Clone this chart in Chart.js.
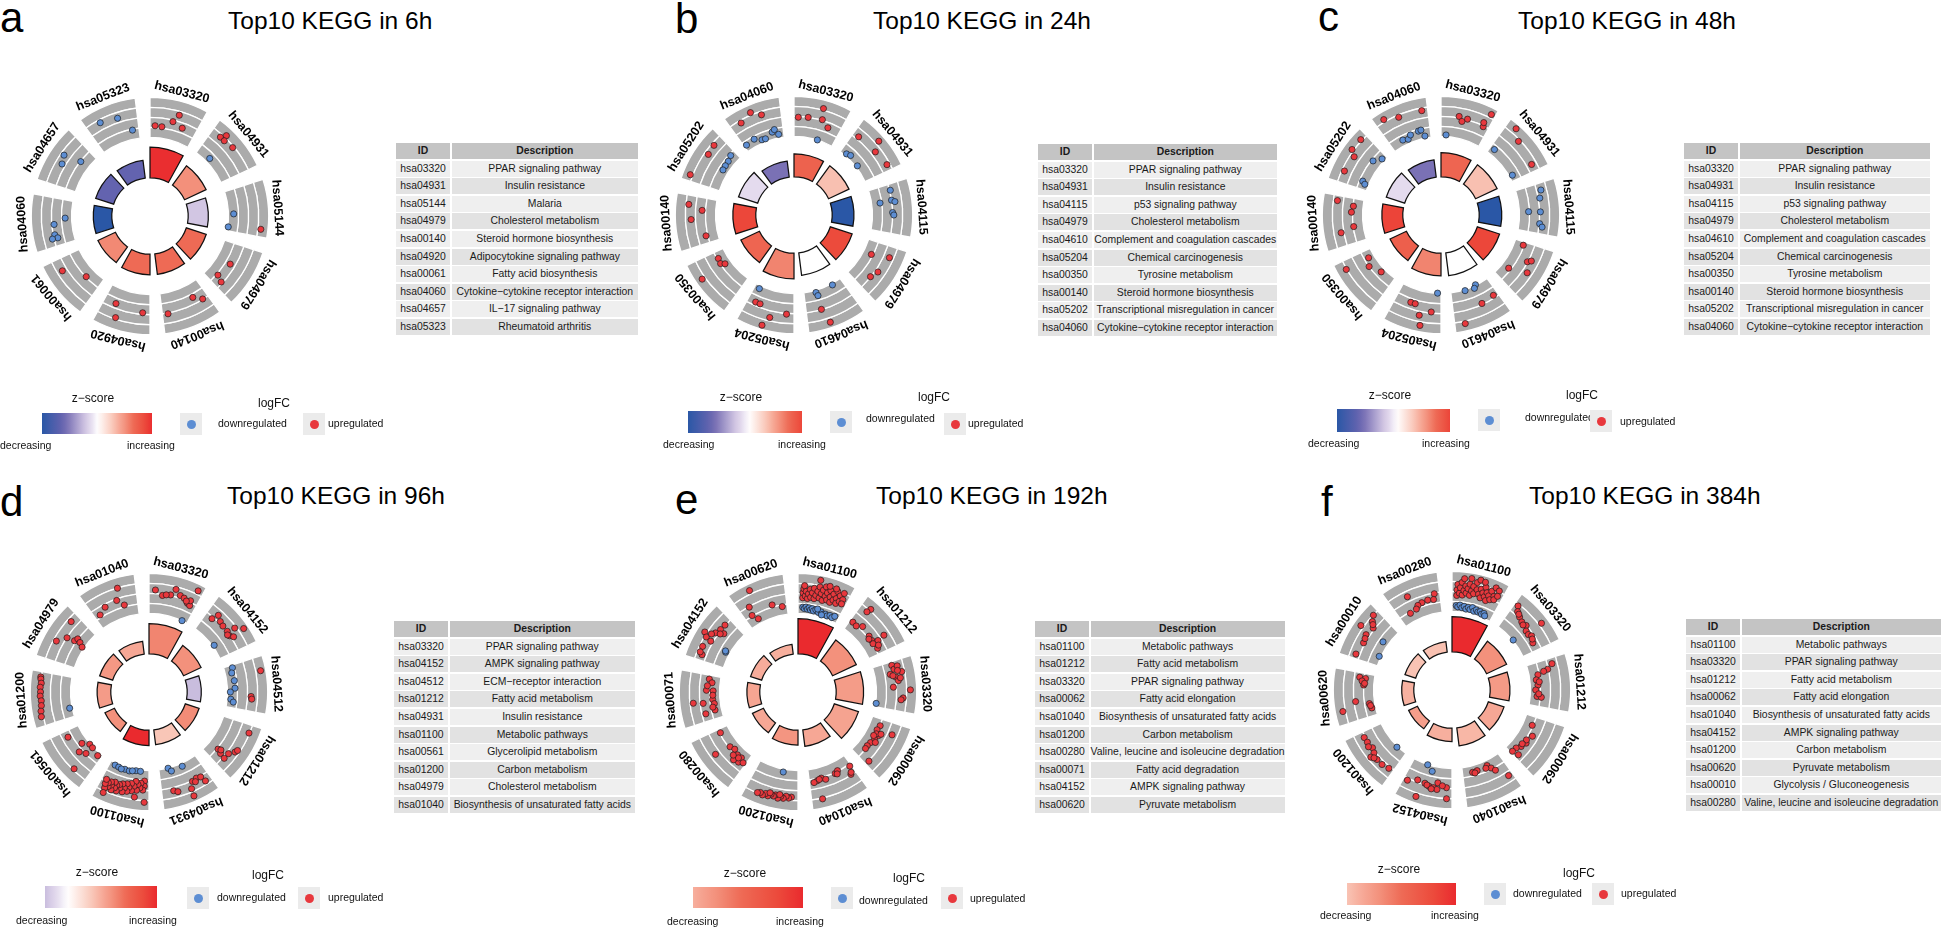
<!DOCTYPE html>
<html>
<head>
<meta charset="utf-8">
<title>Top10 KEGG GOCircle panels</title>
<script src="https://cdn.jsdelivr.net/npm/chart.js@4.4.1/dist/chart.umd.min.js"></script>
<style>
  html,body{margin:0;padding:0;background:#fff;}
  body{width:1944px;height:927px;position:relative;overflow:hidden;font-family:"Liberation Sans",Arial,Helvetica,sans-serif;color:#111;}
  .t{position:absolute;white-space:nowrap;}
  .circ{position:absolute;width:400px;height:400px;}
  .circ canvas{position:absolute;left:0;top:0;}
  .tbl{position:absolute;display:grid;grid-template-columns:54px 1fr;column-gap:1.6px;row-gap:1.6px;grid-auto-rows:16px;font-size:10.4px;}
  .tbl div{background:#e2e2e2;text-align:center;line-height:16px;white-space:nowrap;color:#1a1a1a;}
  .tbl div.h{background:#c4c4c4;font-weight:bold;}
  .tbl div.o{background:#efefef;}
  .key{position:absolute;width:22px;height:22px;background:#ebebeb;}
  .key i{position:absolute;left:6.5px;top:6.5px;width:9px;height:9px;border-radius:50%;}
  .zbar{position:absolute;}
</style>
</head>
<body>
<script>
// ================= DATA =================
// Panel a (6h)
const TERMS_A = ['hsa03320','hsa04931','hsa05144','hsa04979','hsa00140','hsa04920','hsa00061','hsa04060','hsa04657','hsa05323'];
const DESC_A = ['PPAR signaling pathway','Insulin resistance','Malaria','Cholesterol metabolism','Steroid hormone biosynthesis','Adipocytokine signaling pathway','Fatty acid biosynthesis','Cytokine\u2212cytokine receptor interaction','IL\u221217 signaling pathway','Rheumatoid arthritis'];
const Z_A = [2.6, 1.34, -0.58, 1.73, 1.73, 1.73, 1.41, -2.65, -1.73, -1.73];
const BAR_A = [0.76, 0.59, 0.50, 0.52, 0.51, 0.51, 0.48, 0.46, 0.47, 0.44];
// points: [position on circle (term index + offset), scaled logFC within the band]
const UP_A = [[0.09,0.35],[0.21,0.34],[0.38,0.52],[0.45,0.72],[0.56,0.43],
  [1.16,0.74],[1.21,0.87],[1.24,0.74],[1.40,0.78],
  [2.69,0.89],
  [3.36,0.43],[3.64,0.34],[3.69,0.52],
  [4.23,0.39],[4.10,0.55],[4.71,0.58],
  [5.59,0.44],[5.52,0.78],[5.12,0.52],
  [6.61,0.68],[6.29,0.29]];
const DOWN_A = [[1.28,0.16],
  [2.46,0.18],[2.72,0.06],
  [7.46,0.21],[7.36,0.50],[7.19,0.52],[7.13,0.46],[7.13,0.60],
  [8.48,0.73],[8.35,0.65],[8.56,0.29],
  [9.22,0.74],[9.49,0.67],[9.68,0.28]];

// Panel b (24h)
const TERMS_B = ['hsa03320','hsa04931','hsa04115','hsa04979','hsa04610','hsa05204','hsa00350','hsa00140','hsa05202','hsa04060'];
const DESC_B = ['PPAR signaling pathway','Insulin resistance','p53 signaling pathway','Cholesterol metabolism','Complement and coagulation cascades','Chemical carcinogenesis','Tyrosine metabolism','Steroid hormone biosynthesis','Transcriptional misregulation in cancer','Cytokine\u2212cytokine receptor interaction'];
const Z_B = [1.72, 0.74, -2.45, 2.08, 0.0, 1.35, 1.67, 2.13, -0.29, -1.35];
const BAR_B = [0.57, 0.56, 0.54, 0.57, 0.56, 0.64, 0.51, 0.57, 0.50, 0.40];
const UP_B = [[0.07,0.54],[0.23,0.56],[0.43,0.86],[0.46,0.58],[0.59,0.43],
  [1.10,0.63],[1.36,0.91],[1.45,0.67],[1.71,0.74],
  [3.25,0.26],[3.17,0.71],[3.58,0.55],[3.45,0.63],
  [4.55,0.55],[4.48,0.93],
  [5.66,0.47],[5.58,0.47],[5.37,0.73],[5.45,0.97],[5.12,0.58],
  [6.67,0.27],[6.57,0.29],[6.52,0.20],[6.53,0.90],
  [7.66,0.74],[7.58,0.39],[7.43,0.67],[7.13,0.35],
  [8.64,0.75],[8.48,0.72],[8.09,0.88],
  [9.36,0.88],[9.17,0.75],[9.50,0.73]];
const DOWN_B = [[0.48,0.05],
  [1.13,0.10],[1.21,0.14],[1.45,0.09],
  [2.10,0.58],[2.28,0.26],[2.26,0.56],[2.29,0.64],[2.46,0.56],[2.50,0.59],
  [4.20,0.08],[4.56,0.10],[4.54,0.19],
  [5.70,0.12],
  [8.70,0.26],[8.59,0.21],[8.49,0.20],[8.40,0.19],
  [9.05,0.20],[9.23,0.23],[9.36,0.13],[9.43,0.12],[9.59,0.23],[9.64,0.28],[9.70,0.14]];

// Panel c (48h)
const TERMS_C = ['hsa03320','hsa04931','hsa04115','hsa04979','hsa04610','hsa05204','hsa00350','hsa00140','hsa05202','hsa04060'];
const DESC_C = ['PPAR signaling pathway','Insulin resistance','p53 signaling pathway','Cholesterol metabolism','Complement and coagulation cascades','Chemical carcinogenesis','Tyrosine metabolism','Steroid hormone biosynthesis','Transcriptional misregulation in cancer','Cytokine\u2212cytokine receptor interaction'];
const Z_C = [1.67, 0.74, -2.45, 2.13, 0.0, 1.35, 1.76, 2.16, -0.29, -1.35];
const BAR_C = [0.60, 0.59, 0.56, 0.58, 0.57, 0.56, 0.45, 0.52, 0.48, 0.43];
const UP_C = [[0.29,0.60],[0.35,0.49],[0.43,0.58],[0.71,0.54],[0.69,0.64],[0.74,0.91],
  [1.14,0.96],[1.29,0.77],[1.69,0.69],
  [3.06,0.28],[3.29,0.55],[3.25,0.63],[3.56,0.24],[3.44,0.69],
  [4.08,0.49],[4.31,0.53],[4.65,0.88],
  [5.53,0.40],[5.45,0.40],[5.16,0.53],[5.34,0.66],[5.30,0.91],
  [6.65,0.19],[6.51,0.30],[6.29,0.15],[6.67,0.83],
  [7.72,0.71],[7.66,0.29],[7.55,0.33],[7.29,0.29],[7.22,0.63],
  [8.70,0.85],[8.51,0.86],[8.44,0.71],[8.18,0.75],
  [9.14,0.88],[9.35,0.76],[9.71,0.75]];
const DOWN_C = [[0.10,0.09],
  [1.09,0.20],[1.69,0.13],
  [2.11,0.67],[2.23,0.60],[2.44,0.28],[2.45,0.58],[2.64,0.57],[2.69,0.64],
  [4.51,0.07],[4.27,0.03],[4.32,0.10],
  [5.07,0.04],
  [8.57,0.26],[8.71,0.12],[8.15,0.22],[8.11,0.14],
  [9.25,0.19],[9.35,0.15],[9.42,0.23],[9.58,0.26],[9.63,0.27],[9.68,0.10]];

// Panel d (96h)
const TERMS_D = ['hsa03320','hsa04152','hsa04512','hsa01212','hsa04931','hsa01100','hsa00561','hsa01200','hsa04979','hsa01040'];
const DESC_D = ['PPAR signaling pathway','AMPK signaling pathway','ECM\u2212receptor interaction','Fatty acid metabolism','Insulin resistance','Metabolic pathways','Glycerolipid metabolism','Carbon metabolism','Cholesterol metabolism','Biosynthesis of unsaturated fatty acids'];
const Z_D = [4.1, 3.75, -1.9, 3.9, 2.1, 7.5, 3.75, 3.4, 3.5, 3.0];
const BAR_D = [0.75, 0.48, 0.35, 0.36, 0.37, 0.38, 0.26, 0.34, 0.34, 0.32];
const UP_D = [[0.10,0.65],[0.22,0.53],[0.35,0.58],[0.41,0.75],[0.50,0.63],[0.57,0.60],[0.65,0.51],[0.70,0.48],[0.68,0.60],[0.72,0.91],[0.62,0.55],[0.28,0.56],
  [1.13,0.51],[1.17,0.68],[1.26,0.60],[1.34,0.57],[1.45,0.57],[1.53,0.55],[1.58,0.62],[1.48,0.77],[1.56,0.95],[1.50,0.52],
  [2.20,0.94],[2.57,0.65],[2.61,0.67],
  [3.12,0.80],[3.60,0.33],[3.63,0.45],[3.65,0.60],[3.55,0.61],[3.47,0.72],[3.43,0.75],[3.58,0.40],
  [4.61,0.64],[4.55,0.69],[4.34,0.74],[4.28,0.58],[4.20,0.55],[4.13,0.58],[4.10,0.73],[4.35,0.93],[4.24,0.62],
  [5.08,0.32],[5.08,0.45],[5.10,0.55],[5.14,0.38],[5.15,0.50],[5.19,0.42],[5.20,0.57],[5.23,0.35],[5.25,0.48],[5.28,0.60],
  [5.30,0.42],[5.33,0.53],[5.35,0.64],[5.37,0.45],[5.40,0.57],[5.42,0.68],[5.44,0.48],[5.47,0.60],[5.49,0.52],[5.51,0.70],
  [5.53,0.56],[5.55,0.64],[5.57,0.50],[5.59,0.72],[5.61,0.60],[5.63,0.53],[5.65,0.67],[5.67,0.58],[5.69,0.74],[5.71,0.63],
  [5.72,0.52],[5.68,0.86],[5.22,0.75],[5.07,0.86],
  [6.69,0.41],[6.46,0.20],[6.35,0.06],[6.37,0.39],[6.27,0.29],[6.08,0.13],[6.26,0.07],[6.23,0.78],
  [7.72,0.83],[7.69,0.82],[7.63,0.80],[7.57,0.82],[7.50,0.81],[7.44,0.82],[7.37,0.80],[7.30,0.81],[7.22,0.84],[7.14,0.86],
  [8.67,0.72],[8.30,0.74],[8.43,0.55],[8.46,0.35],[8.52,0.31],[8.49,0.21],[8.44,0.10],
  [9.53,0.81],[9.10,0.37],[9.24,0.48],[9.46,0.52],[9.56,0.35]];
const DOWN_D = [[0.69,0.05],
  [1.51,0.09],
  [2.05,0.26],[2.14,0.21],[2.29,0.24],[2.43,0.24],[2.50,0.12],[2.64,0.14],[2.69,0.21],
  [4.61,0.05],[4.56,0.14],[4.33,0.12],
  [5.69,0.10],[5.61,0.11],[5.48,0.11],[5.39,0.12],[5.26,0.08],[5.17,0.08],[5.33,0.10],[5.55,0.13],
  [7.18,0.11]];

// Panel e (192h)
const TERMS_E = ['hsa01100','hsa01212','hsa03320','hsa00062','hsa01040','hsa01200','hsa00280','hsa00071','hsa04152','hsa00620'];
const DESC_E = ['Metabolic pathways','Fatty acid metabolism','PPAR signaling pathway','Fatty acid elongation','Biosynthesis of unsaturated fatty acids','Carbon metabolism','Valine, leucine and isoleucine degradation','Fatty acid degradation','AMPK signaling pathway','Pyruvate metabolism'];
const Z_E = [8.5, 4.25, 3.83, 3.57, 3.4, 4.08, 3.4, 3.49, 3.23, 3.15];
const BAR_E = [0.87, 0.65, 0.68, 0.63, 0.41, 0.37, 0.30, 0.32, 0.29, 0.24];
const UP_E = [[0.08,0.45],[0.08,0.58],[0.09,0.68],[0.12,0.50],[0.13,0.62],[0.16,0.44],[0.17,0.56],[0.19,0.68],[0.21,0.48],[0.23,0.60],
  [0.25,0.72],[0.27,0.46],[0.29,0.55],[0.31,0.66],[0.33,0.78],[0.35,0.50],[0.37,0.62],[0.39,0.72],[0.41,0.46],[0.42,0.82],
  [0.44,0.58],[0.46,0.68],[0.48,0.50],[0.50,0.76],[0.52,0.60],[0.54,0.47],[0.56,0.70],[0.58,0.55],[0.60,0.80],[0.62,0.62],
  [0.64,0.50],[0.66,0.72],[0.68,0.58],[0.70,0.82],[0.72,0.66],[0.73,0.55],[0.32,0.95],[0.10,0.76],[0.47,0.86],[0.57,0.85],
  [1.15,0.85],[1.13,0.74],[1.06,0.31],[1.15,0.29],[1.24,0.39],[1.44,0.35],[1.53,0.34],[1.61,0.38],[1.59,0.47],[1.57,0.67],
  [1.70,0.36],[1.59,0.32],[1.48,0.30],[1.66,0.42],
  [2.06,0.53],[2.13,0.56],[2.09,0.66],[2.19,0.74],[2.20,0.44],[2.26,0.57],[2.32,0.62],[2.42,0.48],[2.47,0.91],[2.59,0.73],
  [2.62,0.68],[2.16,0.64],[2.23,0.50],[2.28,0.68],
  [3.12,0.31],[3.21,0.28],[3.29,0.38],[3.38,0.34],[3.47,0.30],[3.55,0.28],[3.61,0.29],[3.18,0.68],[3.73,0.57],[3.28,0.31],
  [3.25,0.42],[3.42,0.40],[3.33,0.27],
  [4.66,0.36],[4.58,0.32],[4.51,0.38],[4.32,0.33],[4.26,0.29],[4.03,0.35],[4.09,0.54],[4.64,0.84],[4.72,0.39],[4.62,0.34],
  [4.29,0.36],[4.07,0.50],
  [5.10,0.73],[5.14,0.76],[5.18,0.72],[5.22,0.78],[5.26,0.74],[5.30,0.80],[5.34,0.73],[5.37,0.77],[5.41,0.74],[5.45,0.80],
  [5.49,0.76],[5.53,0.82],[5.57,0.78],[5.61,0.81],[5.28,0.70],[5.43,0.71],
  [6.73,0.28],[6.42,0.27],[6.33,0.22],[6.22,0.27],[6.13,0.26],[6.12,0.39],[6.21,0.43],[6.47,0.68],[6.05,0.33],[6.17,0.31],
  [6.27,0.35],
  [7.73,0.33],[7.67,0.25],[7.53,0.38],[7.52,0.21],[7.36,0.23],[7.28,0.20],[7.16,0.21],[7.33,0.73],[7.31,0.48],[7.13,0.46],
  [7.61,0.36],[7.44,0.22],[7.22,0.25],
  [8.68,0.57],[8.58,0.58],[8.56,0.45],[8.49,0.63],[8.41,0.87],[8.36,0.77],[8.34,0.62],[8.21,0.74],[8.09,0.67],[8.52,0.52],
  [8.44,0.70],[8.12,0.74],
  [9.29,0.91],[9.17,0.54],[9.14,0.32],[9.21,0.17],[9.54,0.36],[9.71,0.26]];
const DOWN_E = [[0.09,0.21],[0.12,0.18],[0.15,0.22],[0.18,0.17],[0.21,0.21],[0.24,0.16],[0.27,0.20],[0.30,0.15],[0.34,0.19],[0.40,0.14],
  [0.45,0.17],[0.50,0.13],[0.54,0.15],[0.58,0.12],[0.63,0.16],[0.68,0.13],[0.72,0.19],[0.37,0.22],[0.47,0.10],
  [2.73,0.06],
  [5.29,0.12],
  [8.30,0.15],[8.32,0.17]];

// Panel f (384h)
const TERMS_F = ['hsa01100','hsa03320','hsa01212','hsa00062','hsa01040','hsa04152','hsa01200','hsa00620','hsa00010','hsa00280'];
const DESC_F = ['Metabolic pathways','PPAR signaling pathway','Fatty acid metabolism','Fatty acid elongation','Biosynthesis of unsaturated fatty acids','AMPK signaling pathway','Carbon metabolism','Pyruvate metabolism','Glycolysis / Gluconeogenesis','Valine, leucine and isoleucine degradation'];
const Z_F = [9.0, 4.5, 4.14, 3.6, 3.06, 3.33, 3.96, 3.24, 2.61, 2.7];
const BAR_F = [0.87, 0.55, 0.49, 0.41, 0.45, 0.33, 0.24, 0.30, 0.28, 0.26];
const UP_F = [[0.08,0.46],[0.08,0.60],[0.09,0.74],[0.12,0.52],[0.13,0.66],[0.15,0.80],[0.17,0.48],[0.19,0.60],[0.21,0.72],[0.23,0.54],
  [0.25,0.66],[0.27,0.78],[0.29,0.50],[0.31,0.62],[0.33,0.74],[0.35,0.56],[0.37,0.86],[0.39,0.68],[0.41,0.94],[0.43,0.58],
  [0.45,0.72],[0.47,0.50],[0.49,0.64],[0.51,0.80],[0.53,0.56],[0.55,0.68],[0.57,0.48],[0.59,0.62],[0.61,0.76],[0.63,0.54],
  [0.65,0.88],[0.67,0.66],[0.69,0.58],[0.71,0.84],[0.72,0.70],[0.28,0.93],[0.48,0.92],[0.18,0.90],
  [1.06,0.77],[1.11,0.65],[1.19,0.58],[1.27,0.53],[1.36,0.55],[1.43,0.46],[1.50,0.45],[1.55,0.50],[1.66,0.43],[1.48,0.89],
  [1.15,0.62],[1.32,0.50],[1.60,0.47],
  [2.09,0.68],[2.16,0.54],[2.22,0.27],[2.31,0.21],[2.41,0.24],[2.50,0.18],[2.62,0.22],[2.63,0.33],[2.18,0.43],[2.35,0.28],
  [2.57,0.26],
  [3.16,0.28],[3.33,0.41],[3.49,0.37],[3.59,0.32],[3.67,0.25],[3.73,0.41],[3.76,0.24],[3.44,0.33],[3.54,0.30],
  [4.61,0.21],[4.52,0.20],[4.31,0.17],[4.26,0.27],[4.21,0.37],[4.07,0.66],[4.57,0.24],[4.35,0.22],
  [5.73,0.61],[5.58,0.50],[5.45,0.52],[5.37,0.57],[5.30,0.58],[5.24,0.61],[5.24,0.44],[5.09,0.54],[5.08,0.82],[5.52,0.91],
  [5.41,0.55],[5.33,0.62],[5.16,0.50],
  [6.71,0.59],[6.62,0.58],[6.50,0.55],[6.42,0.60],[6.40,0.73],[6.31,0.65],[6.20,0.65],[6.08,0.61],[6.55,0.62],[6.36,0.68],
  [7.72,0.42],[7.71,0.27],[7.59,0.30],[7.31,0.52],[7.24,0.18],[7.15,0.14],[7.19,0.88],[7.66,0.35],[7.20,0.16],[7.62,0.28],
  [8.71,0.81],[8.63,0.72],[8.56,0.60],[8.48,0.89],[8.41,0.65],[8.28,0.60],[8.07,0.66],[8.60,0.66],[8.35,0.62],
  [9.29,0.68],[9.71,0.54],[9.68,0.40],[9.58,0.42],[9.47,0.40],[9.39,0.37],[9.34,0.30],[9.21,0.27]];
const DOWN_F = [[0.08,0.20],[0.11,0.17],[0.15,0.22],[0.19,0.16],[0.23,0.20],[0.27,0.14],[0.31,0.19],[0.35,0.15],[0.39,0.21],[0.43,0.13],
  [0.47,0.18],[0.51,0.14],[0.55,0.17],[0.59,0.12],[0.63,0.16],[0.66,0.11],
  [1.41,0.06],
  [5.50,0.05],[5.38,0.18],
  [6.22,0.07],
  [8.47,0.19],[8.19,0.09]];

const TITLES = ['Top10 KEGG in 6h','Top10 KEGG in 24h','Top10 KEGG in 48h','Top10 KEGG in 96h','Top10 KEGG in 192h','Top10 KEGG in 384h'];
const LETTERS = ['a','b','c','d','e','f'];

// ================= STYLE / LAYOUT =================
const GRAY = '#ABABAB', RED = '#E8383D', BLUE = '#5D8ED3';
const ZSTOPS = [[-1,'#2A57A6'],[-0.65,'#6363AF'],[-0.55,'#7A71B5'],[-0.22,'#D2C6E3'],[-0.12,'#E4DBEE'],[0,'#FFFFFF'],
  [0.28,'#F9C6B7'],[0.40,'#F6A795'],[0.50,'#F3917C'],[0.65,'#EE6A55'],[0.85,'#EC4B3C'],[1,'#EA2A2E']];
const PXU = 40.25;   // pixels per radial unit of the circle
const HALF = 200;    // half size of each circle canvas
const R0 = 1.05;     // radial value at centre
const RAD1 = 2, RAD2 = 3, LABEL_R = 4.3;
const UNIT_DEG = 36, SEG_DEG = 28.8, GAP_DEG = 7.2;

const LAYOUT = [
  {cx:150, cy:216, letterX:0, letterB:33, titleX:228, titleB:30, table:[396,143,242],
   zt:[93,398], zbar:[42,413,110,21], dec:[0,445], inc:[127,445], lt:[258,403], bb:[180,413], dl:[218,423], rb:[303,413], ul:[328,423]},
  {cx:794, cy:215, letterX:675, letterB:34, titleX:873, titleB:30, table:[1038,144,239],
   zt:[741,397], zbar:[688,411,114,22], dec:[663,444], inc:[778,444], lt:[918,397], bb:[830,411], dl:[866,418], rb:[944,413], ul:[968,423]},
  {cx:1441, cy:215, letterX:1318, letterB:32, titleX:1518, titleB:30, table:[1684,143,246],
   zt:[1390,395], zbar:[1337,409,113,23], dec:[1308,443], inc:[1422,443], lt:[1566,395], bb:[1478,409], dl:[1525,417], rb:[1590,410], ul:[1620,421]},
  {cx:149, cy:692, letterX:0, letterB:517, titleX:227, titleB:505, table:[394,621,241],
   zt:[97,872], zbar:[45,886,112,22], dec:[16,920], inc:[129,920], lt:[252,875], bb:[187,887], dl:[217,897], rb:[298,887], ul:[328,897]},
  {cx:798, cy:692, letterX:675, letterB:515, titleX:876, titleB:505, table:[1035,621,246],
   zt:[745,873], zbar:[693,887,110,21], dec:[667,921], inc:[776,921], lt:[893,878], bb:[831,887], dl:[859,900], rb:[941,887], ul:[970,898]},
  {cx:1452, cy:690, letterX:1321, letterB:517, titleX:1529, titleB:505, table:[1686,619,255],
   zt:[1399,869], zbar:[1347,883,109,22], dec:[1320,915], inc:[1431,915], lt:[1563,873], bb:[1484,883], dl:[1513,893], rb:[1592,883], ul:[1621,893]}
];

const PANELS = [
  {ids:TERMS_A, desc:DESC_A, z:Z_A, bar:BAR_A, up:UP_A, down:DOWN_A},
  {ids:TERMS_B, desc:DESC_B, z:Z_B, bar:BAR_B, up:UP_B, down:DOWN_B},
  {ids:TERMS_C, desc:DESC_C, z:Z_C, bar:BAR_C, up:UP_C, down:DOWN_C},
  {ids:TERMS_D, desc:DESC_D, z:Z_D, bar:BAR_D, up:UP_D, down:DOWN_D},
  {ids:TERMS_E, desc:DESC_E, z:Z_E, bar:BAR_E, up:UP_E, down:DOWN_E},
  {ids:TERMS_F, desc:DESC_F, z:Z_F, bar:BAR_F, up:UP_F, down:DOWN_F}
];

// ================= HELPERS =================
function hex2rgb(h){ return [1,3,5].map(i => parseInt(h.substr(i,2),16)); }
function zColor(t){
  t = Math.max(-1, Math.min(1, t));
  for (let i = 0; i < ZSTOPS.length - 1; i++){
    const [t0,c0] = ZSTOPS[i], [t1,c1] = ZSTOPS[i+1];
    if (t >= t0 && t <= t1){
      const f = (t - t0) / (t1 - t0), a = hex2rgb(c0), b = hex2rgb(c1);
      return 'rgb(' + a.map((v,k) => Math.round(v + (b[k]-v)*f)).join(',') + ')';
    }
  }
  return ZSTOPS[ZSTOPS.length-1][1];
}
function addText(txt, x, cy, size, opt){
  opt = opt || {};
  const d = document.createElement('div');
  d.className = 't';
  d.textContent = txt;
  d.style.fontSize = size + 'px';
  d.style.lineHeight = size + 'px';
  d.style.left = x + 'px';
  d.style.top = (opt.baseline ? (cy - 0.8465*size) : (cy - size/2)) + 'px';
  if (opt.bold) d.style.fontWeight = 'bold';
  if (opt.center) d.style.transform = 'translateX(-50%)';
  if (opt.color) d.style.color = opt.color;
  document.body.appendChild(d);
  return d;
}
function toXY(list){
  return list.map(([lx, ly]) => {
    const th = lx * UNIT_DEG * Math.PI / 180;
    const rr = RAD2 + ly - R0;
    return {x: rr * Math.sin(th), y: rr * Math.cos(th)};
  });
}

const ringBasePlugin = {
  id: 'ringBase',
  afterDatasetUpdate(chart, args){
    const ds = chart.data.datasets[args.index];
    if (ds.ringBase === undefined) return;
    const inner = chart.scales.r.getDistanceFromCenterForValue(ds.ringBase);
    for (const arc of args.meta.data) arc.innerRadius = inner;
  }
};

function labelPlugin(ids){
  return {
    id: 'termLabels',
    afterDraw(chart){
      const ctx = chart.ctx, xs = chart.scales.x, ys = chart.scales.y;
      ctx.save();
      ctx.font = 'bold 12.5px "Liberation Sans", Arial, sans-serif';
      ctx.fillStyle = '#000';
      ctx.textAlign = 'center';
      ctx.textBaseline = 'middle';
      ids.forEach((id, i) => {
        const th = (i + 0.4) * UNIT_DEG * Math.PI / 180;
        const rr = LABEL_R - R0;
        const px = xs.getPixelForValue(rr * Math.sin(th));
        const py = ys.getPixelForValue(rr * Math.cos(th));
        ctx.save();
        ctx.translate(px, py);
        ctx.rotate(th);
        ctx.fillText(id, 0, 0);
        ctx.restore();
      });
      ctx.restore();
    }
  };
}

// ================= BUILD =================
PANELS.forEach((P, pi) => {
  const L = LAYOUT[pi];
  addText(LETTERS[pi], L.letterX, L.letterB, 42, {baseline:true, color:'#000'});
  addText(TITLES[pi], L.titleX, L.titleB, 24.5, {baseline:true, color:'#000'});

  const box = document.createElement('div');
  box.className = 'circ';
  box.style.left = (L.cx - HALF) + 'px';
  box.style.top = (L.cy - HALF) + 'px';
  document.body.appendChild(box);
  const c1 = document.createElement('canvas'); c1.width = 2*HALF; c1.height = 2*HALF; box.appendChild(c1);
  const c2 = document.createElement('canvas'); c2.width = 2*HALF; c2.height = 2*HALF; box.appendChild(c2);

  const zmax = Math.max(...P.z.map(Math.abs));
  const angleFn = ctx => (ctx.dataIndex % 2 === 0 ? SEG_DEG : GAP_DEG);
  const isGap = ctx => ctx.dataIndex % 2 === 1;

  const bandSets = [0,1,2,3].map(k => ({
    data: P.ids.flatMap(() => [RAD2 + (k+1)*0.25, RAD2 + k*0.25]),
    ringBase: RAD2 + k*0.25,
    backgroundColor: ctx => isGap(ctx) ? 'rgba(0,0,0,0)' : GRAY,
    borderColor: '#ffffff',
    borderWidth: ctx => isGap(ctx) ? 0 : 1.3,
    angle: angleFn
  }));
  const barSet = {
    data: P.bar.flatMap(h => [RAD1 + h, RAD1]),
    ringBase: RAD1,
    backgroundColor: ctx => isGap(ctx) ? 'rgba(0,0,0,0)' : zColor(P.z[(ctx.dataIndex)/2] / zmax),
    borderColor: '#111111',
    borderWidth: ctx => isGap(ctx) ? 0 : 1.25,
    borderJoinStyle: 'miter',
    angle: angleFn
  };

  new Chart(c1, {
    type: 'polarArea',
    data: { labels: P.ids.flatMap(id => [id, '']), datasets: [barSet, ...bandSets] },
    options: {
      responsive: false, animation: false, devicePixelRatio: 1, events: [],
      layout: { padding: 0 },
      plugins: { legend: { display: false }, tooltip: { enabled: false } },
      scales: { r: { display: false, min: R0, max: R0 + HALF / PXU, startAngle: 0,
                     ticks: { display: false }, grid: { display: false }, angleLines: { display: false }, pointLabels: { display: false } } }
    },
    plugins: [ringBasePlugin]
  });

  const lim = HALF / PXU;
  new Chart(c2, {
    type: 'scatter',
    data: { datasets: [
      { data: toXY(P.up), backgroundColor: RED, borderColor: '#1c1c1c', borderWidth: 0.7, pointRadius: 3.1 },
      { data: toXY(P.down), backgroundColor: BLUE, borderColor: '#1c1c1c', borderWidth: 0.7, pointRadius: 3.1 }
    ]},
    options: {
      responsive: false, animation: false, devicePixelRatio: 1, events: [],
      layout: { padding: 0 },
      plugins: { legend: { display: false }, tooltip: { enabled: false } },
      scales: {
        x: { type: 'linear', display: false, min: -lim, max: lim },
        y: { type: 'linear', display: false, min: -lim, max: lim }
      }
    },
    plugins: [labelPlugin(P.ids)]
  });

  const tb = document.createElement('div');
  tb.className = 'tbl';
  tb.style.left = L.table[0] + 'px';
  tb.style.top = L.table[1] + 'px';
  tb.style.width = L.table[2] + 'px';
  const cell = (txt, cls) => { const d = document.createElement('div'); d.textContent = txt; if (cls) d.className = cls; tb.appendChild(d); };
  cell('ID','h'); cell('Description','h');
  P.ids.forEach((id, i) => { const cls = i % 2 === 0 ? 'o' : ''; cell(id, cls); cell(P.desc[i], cls); });
  document.body.appendChild(tb);

  addText('z\u2212score', L.zt[0], L.zt[1], 12, {center:true});
  const zb = document.createElement('div');
  zb.className = 'zbar';
  zb.style.left = L.zbar[0] + 'px'; zb.style.top = L.zbar[1] + 'px';
  zb.style.width = L.zbar[2] + 'px'; zb.style.height = L.zbar[3] + 'px';
  const tmin = Math.min(...P.z) / zmax, tmax = Math.max(...P.z) / zmax;
  const stops = [];
  for (let k = 0; k <= 24; k++){ const t = tmin + (tmax - tmin) * k / 24; stops.push(zColor(t) + ' ' + (k*100/24).toFixed(2) + '%'); }
  zb.style.background = 'linear-gradient(to right,' + stops.join(',') + ')';
  document.body.appendChild(zb);
  addText('decreasing', L.dec[0], L.dec[1], 10.5);
  addText('increasing', L.inc[0], L.inc[1], 10.5);

  addText('logFC', L.lt[0], L.lt[1], 12);
  const key = (pos, col) => {
    const k = document.createElement('div'); k.className = 'key';
    k.style.left = pos[0] + 'px'; k.style.top = pos[1] + 'px';
    const dot = document.createElement('i'); dot.style.background = col; k.appendChild(dot);
    document.body.appendChild(k);
  };
  key(L.bb, BLUE);
  addText('downregulated', L.dl[0], L.dl[1], 10.5);
  key(L.rb, RED);
  addText('upregulated', L.ul[0], L.ul[1], 10.5);
});
</script>
</body>
</html>
